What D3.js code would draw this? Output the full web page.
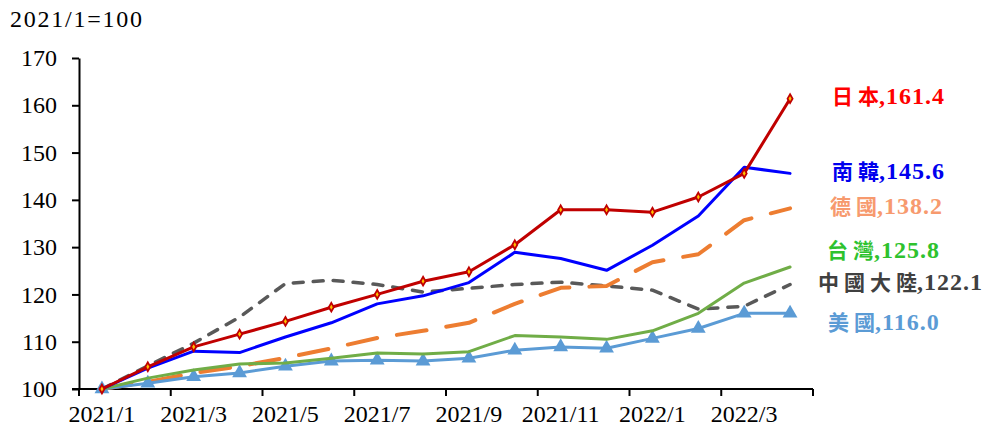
<!DOCTYPE html>
<html>
<head>
<meta charset="utf-8">
<script src="https://cdn.jsdelivr.net/npm/d3@7"></script>
<style>
  body { margin: 0; background: #fff; }
  svg text { font-family: "Liberation Serif", "Noto Sans CJK TC", serif; }
</style>
</head>
<body>
<div id="chart"></div>
<script>
// months on the category axis
var months = ["2021/1","2021/2","2021/3","2021/4","2021/5","2021/6","2021/7","2021/8",
              "2021/9","2021/10","2021/11","2021/12","2022/1","2022/2","2022/3","2022/4"];
var yTicks = [100, 110, 120, 130, 140, 150, 160, 170];

// index values, 2021/1 = 100
var japan   = [100, 104.7, 108.9, 111.6, 114.3, 117.3, 120.0, 122.8, 124.8, 130.5, 137.9, 137.9, 137.4, 140.6, 145.6, 161.4];
var korea   = [100, 104.4, 108.0, 107.7, 111.0, 114.0, 118.0, 119.7, 122.5, 128.9, 127.6, 125.1, 130.4, 136.6, 146.9, 145.6];
var germany = [100, 101.5, 103.4, 104.8, 106.6, 108.6, 110.8, 112.3, 114.0, 118.0, 121.4, 121.8, 126.8, 128.5, 135.7, 138.2];
var taiwan  = [100, 102.3, 104.0, 105.3, 105.5, 106.5, 107.6, 107.4, 107.9, 111.3, 111.0, 110.5, 112.3, 116.0, 122.4, 125.8];
var china   = [100, 104.9, 109.7, 115.2, 122.3, 123.0, 122.1, 120.5, 121.3, 122.1, 122.6, 121.8, 120.9, 116.9, 117.5, 122.1];
var usa     = [100, 101.2, 102.6, 103.4, 104.8, 105.9, 106.1, 105.9, 106.5, 108.2, 108.9, 108.6, 110.7, 112.8, 116.0, 116.0];

var width = 997, height = 432;
var mLeft = 79, mRight = 813, mTop = 58, mBottom = 389;

var svg = d3.select("#chart").append("svg")
    .attr("width", width)
    .attr("height", height);

var x = d3.scaleBand().domain(months).range([mLeft, mRight]).padding(0);
var y = d3.scaleLinear().domain([100, 170]).range([mBottom, mTop]);
var cx = function(m) { return x(m) + x.bandwidth() / 2; };

// title
svg.append("text")
    .text("2021/1=100")
    .attr("x", 10)
    .attr("y", 27)
    .attr("textLength", 132)
    .style("font-size", "24px")
    .attr("fill", "#000");

// y axis
var yAxis = svg.append("g")
    .attr("transform", "translate(" + mLeft + ",0)")
    .call(d3.axisLeft(y).tickValues(yTicks).tickSize(7).tickPadding(15).tickSizeOuter(0));
yAxis.select(".domain").attr("stroke", "#000").attr("stroke-width", 2);
yAxis.selectAll(".tick line").attr("stroke", "#000").attr("stroke-width", 2);
yAxis.selectAll(".tick text").style("font-size", "24px").attr("fill", "#000")
    .style("font-family", "'Liberation Serif', serif");

// x axis (labels on every other month, tick marks at band edges)
var labelMonths = months.filter(function(d, i) { return i % 2 === 0; });
var xAxis = svg.append("g")
    .attr("transform", "translate(0," + mBottom + ")")
    .call(d3.axisBottom(x).tickValues(labelMonths).tickSize(0).tickPadding(16));
xAxis.select(".domain").remove();
xAxis.selectAll(".tick text").style("font-size", "24px").attr("fill", "#000")
    .style("font-family", "'Liberation Serif', serif");

svg.append("line")
    .attr("x1", mLeft - 7).attr("x2", mRight)
    .attr("y1", mBottom).attr("y2", mBottom)
    .attr("stroke", "#000").attr("stroke-width", 2);

var tickXs = labelMonths.map(function(m) { return x(m); }).concat([mRight]);
svg.selectAll(".xtick").data(tickXs).enter().append("line")
    .attr("class", "xtick")
    .attr("x1", function(d) { return d; }).attr("x2", function(d) { return d; })
    .attr("y1", mBottom).attr("y2", mBottom + 7)
    .attr("stroke", "#000").attr("stroke-width", 2);

// series, drawn bottom to top
var series = [
  { name: "中國大陸", values: china,   line: "#595959", label: "#404040", dash: "10,10", w: 3.5, dx: 818, dy: 0 },
  { name: "德國",     values: germany, line: "#ED7D31", label: "#F79A6E", dash: "30,20", w: 4,   dx: 830, dy: 0 },
  { name: "美國",     values: usa,     line: "#5B9BD5", label: "#5B9BD5", dash: null,    w: 3,   dx: 828, dy: 11, marker: "tri" },
  { name: "台灣",     values: taiwan,  line: "#70AD47", label: "#2EC22E", dash: null,    w: 3,   dx: 827, dy: -15 },
  { name: "南韓",     values: korea,   line: "#0000FF", label: "#0000EE", dash: null,    w: 3,   dx: 832, dy: 0 },
  { name: "日本",     values: japan,   line: "#C00000", label: "#FF0000", dash: null,    w: 3,   dx: 832, dy: 0, marker: "dia" }
];

var line = d3.line()
    .x(function(d, i) { return cx(months[i]); })
    .y(function(d) { return y(d); });

series.forEach(function(s) {
  var path = svg.append("path")
      .datum(s.values)
      .attr("d", line)
      .attr("fill", "none")
      .attr("stroke", s.line)
      .attr("stroke-width", s.w)
      .attr("stroke-linejoin", "round")
      .attr("stroke-linecap", "round");
  if (s.dash) path.attr("stroke-dasharray", s.dash);

  if (s.marker === "tri") {
    svg.selectAll(null).data(s.values).enter().append("path")
        .attr("d", d3.symbol().type(d3.symbolTriangle).size(95))
        .attr("transform", function(d, i) { return "translate(" + cx(months[i]) + "," + y(d) + ")"; })
        .attr("fill", s.line);
  }
  if (s.marker === "dia") {
    svg.selectAll(null).data(s.values).enter().append("path")
        .attr("d", d3.symbol().type(d3.symbolDiamond).size(22))
        .attr("transform", function(d, i) { return "translate(" + cx(months[i]) + "," + y(d) + ")"; })
        .attr("fill", "#FFC000")
        .attr("stroke", "#C00000")
        .attr("stroke-width", 1.8);
  }

  var last = s.values[s.values.length - 1];
  var t = svg.append("text")
      .attr("x", s.dx)
      .attr("y", y(last) + s.dy)
      .attr("dy", "0.35em")
      .attr("fill", s.label)
      .style("font-weight", "bold");
  t.append("tspan")
      .text(s.name)
      .style("font-size", "21px")
      .style("letter-spacing", "5px");
  t.append("tspan")
      .text("," + last.toFixed(1))
      .attr("dx", -5)
      .style("font-size", "24px")
      .style("letter-spacing", "1px");
});
</script>
</body>
</html>
